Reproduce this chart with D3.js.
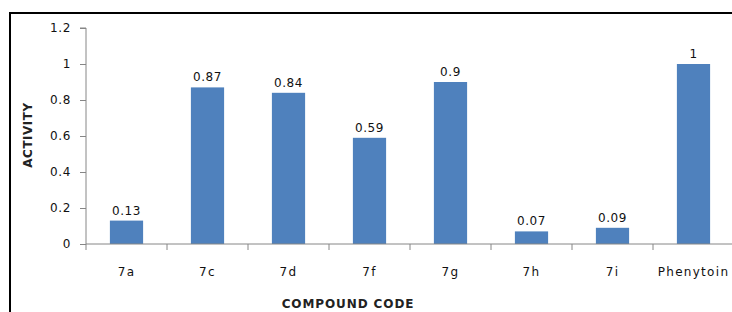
<!DOCTYPE html>
<html lang="en">
<head>
    <meta charset="UTF-8">
    <title>Compound Activity</title>
    <script src="https://d3js.org/d3.v7.min.js"></script>
    <style>
        body { margin: 0; background: #fff; }
        svg text { font-family: "DejaVu Sans", Verdana, sans-serif; }
    </style>
</head>
<body>
    <div id="chart"></div>

    <script>
        // Chart data
        const compounds = ["7a", "7c", "7d", "7f", "7g", "7h", "7i", "Phenytoin"];
        const activity = [0.13, 0.87, 0.84, 0.59, 0.9, 0.07, 0.09, 1];
        const yTicks = [0, 0.2, 0.4, 0.6, 0.8, 1, 1.2];

        const W = 732, H = 312;
        const plot = {left: 86, top: 28, bottom: 244};

        const svg = d3.select("#chart")
            .append("svg")
            .attr("width", W)
            .attr("height", H);

        // Frame (top and left edges visible)
        svg.append("line")
            .attr("x1", 9).attr("x2", W)
            .attr("y1", 13).attr("y2", 13)
            .attr("stroke", "#000").attr("stroke-width", 2);
        svg.append("line")
            .attr("x1", 10).attr("x2", 10)
            .attr("y1", 12).attr("y2", H)
            .attr("stroke", "#000").attr("stroke-width", 2);

        // Scales
        const x = d3.scaleBand()
            .domain(compounds)
            .range([plot.left, plot.left + 81 * compounds.length])
            .paddingInner(0.59)
            .paddingOuter(0.295);

        const y = d3.scaleLinear()
            .domain([0, 1.2])
            .range([plot.bottom, plot.top]);

        // Bars
        svg.selectAll(".bar")
            .data(compounds)
            .enter()
            .append("rect")
            .attr("class", "bar")
            .attr("x", d => x(d))
            .attr("width", x.bandwidth())
            .attr("y", (d, i) => y(activity[i]))
            .attr("height", (d, i) => y(0) - y(activity[i]))
            .attr("fill", "#4f81bd");

        // Value labels
        svg.selectAll(".val")
            .data(compounds)
            .enter()
            .append("text")
            .attr("class", "val")
            .attr("x", d => x(d) + x.bandwidth() / 2)
            .attr("y", (d, i) => y(activity[i]) - 6)
            .attr("text-anchor", "middle")
            .attr("font-size", 12)
            .attr("letter-spacing", 0.6)
            .attr("fill", "#111")
            .text((d, i) => activity[i]);

        // Y axis
        const yAxis = svg.append("g")
            .attr("transform", `translate(${plot.left},0)`)
            .call(d3.axisLeft(y).tickValues(yTicks).tickSize(6).tickPadding(9)
                .tickFormat(d => d3.format("~g")(d)));
        yAxis.select(".domain").attr("stroke", "#868686").attr("d", `M-6,${y(1.2)}H0V${y(0)}`);
        yAxis.selectAll(".tick line").attr("stroke", "#868686");
        yAxis.selectAll(".tick text").attr("font-size", 12).attr("fill", "#111")
            .attr("letter-spacing", 0.6)
            .style("font-family", "DejaVu Sans, sans-serif");

        // X axis
        const step = x.step();
        const xAxis = svg.append("g")
            .attr("transform", `translate(0,${plot.bottom})`);
        xAxis.append("line")
            .attr("x1", plot.left).attr("x2", W)
            .attr("y1", 0).attr("y2", 0)
            .attr("stroke", "#868686");
        xAxis.selectAll(".xtick")
            .data(d3.range(compounds.length + 1))
            .enter()
            .append("line")
            .attr("x1", i => plot.left + i * step)
            .attr("x2", i => plot.left + i * step)
            .attr("y1", 0).attr("y2", 6)
            .attr("stroke", "#868686");
        xAxis.selectAll(".xlab")
            .data(compounds)
            .enter()
            .append("text")
            .attr("x", d => x(d) + x.bandwidth() / 2)
            .attr("y", 32)
            .attr("text-anchor", "middle")
            .attr("font-size", 12)
            .attr("letter-spacing", 1.3)
            .attr("fill", "#111")
            .text(d => d);

        // Axis titles
        svg.append("text")
            .attr("x", 348)
            .attr("y", 308)
            .attr("text-anchor", "middle")
            .attr("font-size", 12)
            .attr("letter-spacing", 0.9)
            .attr("font-weight", "bold")
            .attr("fill", "#222")
            .text("COMPOUND CODE");

        svg.append("text")
            .attr("transform", "translate(32,135) rotate(-90)")
            .attr("text-anchor", "middle")
            .attr("font-size", 12)
            .attr("letter-spacing", 0.5)
            .attr("font-weight", "bold")
            .attr("fill", "#222")
            .text("ACTIVITY");
    </script>
</body>
</html>
